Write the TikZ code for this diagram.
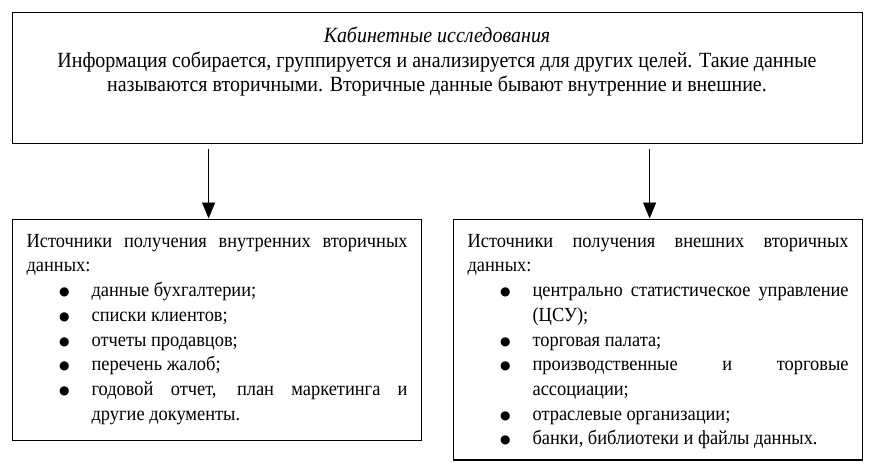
\documentclass[tikz,border=0pt]{standalone}
\usepackage{fontspec}
\setmainfont{Liberation Serif}[FakeStretch=0.92]
\newfontfamily\symfont{DejaVu Sans}
\usetikzlibrary{arrows.meta}
\usetikzlibrary{positioning}
\hyphenpenalty=10000
\newcommand{\bitem}{\par\leftskip=65pt\noindent
  \llap{\raisebox{1pt}{\fontsize{12}{12}\symfont ●}\hspace{22pt}}}

\begin{document}
\begin{tikzpicture}[x=1pt,y=-1pt,
  box/.style={draw,line width=1.2pt,inner sep=0pt},
  srcbox/.style={draw,line width=1.2pt,anchor=north west,text width=381pt,
    inner xsep=14pt,inner ysep=15pt,align=justify,
    font=\fontsize{20}{24.7}\selectfont},
  arr/.style={-{Triangle[width=13pt,length=16pt]},line width=0.9pt}]
  \useasboundingbox (0,0) rectangle (875,475);
  \node[box,minimum width=850pt,minimum height=131pt,anchor=north west] (cab) at (12,12) {};
  \node[anchor=north,align=center,inner sep=0pt,
    font=\fontsize{21.7}{24.5}\selectfont] (cabtext) at (437,27)
    {\textit{Кабинетные исследования}\\
     Информация собирается, группируется и анализируется для других целей. Такие данные\\
     называются вторичными. Вторичные данные бывают внутренние и внешние.};
  \node[srcbox] (vnutr) at (12,218.5) {Источники получения внутренних вторичных\linebreak данных:
    \bitem данные бухгалтерии;
    \bitem списки клиентов;
    \bitem отчеты продавцов;
    \bitem перечень жалоб;
    \bitem годовой отчет, план маркетинга и\linebreak другие документы.\par\kern1pt};
  \node[srcbox] (vnesh) at (453,218.5) {Источники получения внешних вторичных\linebreak данных:
    \bitem центрально статистическое управление\linebreak (ЦСУ);
    \bitem торговая палата;
    \bitem производственные и торговые\linebreak ассоциации;
    \bitem отраслевые организации;
    \bitem банки, библиотеки и файлы данных.\par\kern-4pt};
  \coordinate (in1) at ([xshift=-8.5pt]vnutr.north);
  \coordinate (in2) at ([xshift=-8.5pt]vnesh.north);
  \draw[arr] (cab.south -| in1) ++(0,5) -- (in1);
  \draw[arr] (cab.south -| in2) ++(0,5) -- (in2);
\end{tikzpicture}
\end{document}
